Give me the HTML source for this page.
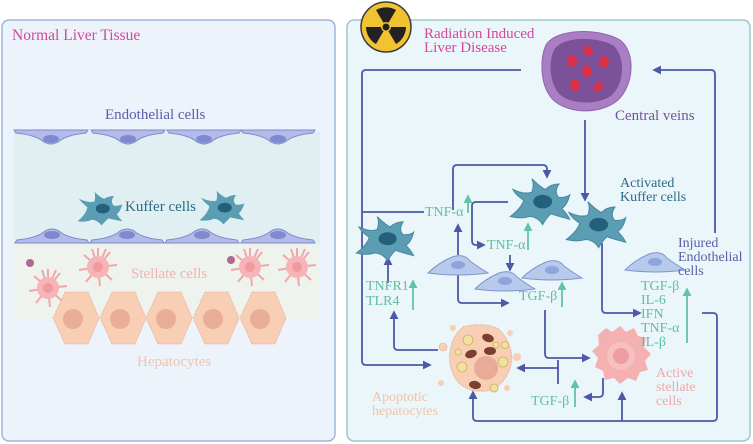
<!DOCTYPE html>
<html><head><meta charset="utf-8"><style>
html,body{margin:0;padding:0;background:#fff;}
svg{display:block;font-family:"Liberation Serif",serif;}
</style></head><body>
<svg width="753" height="444" viewBox="0 0 753 444" xmlns="http://www.w3.org/2000/svg">
<defs>
<marker id="ah" viewBox="0 0 10 10" refX="8" refY="5" markerWidth="5" markerHeight="5" orient="auto"><path d="M0,0 L10,5 L0,10 z" fill="#4d58a6"/></marker>
<marker id="gh" viewBox="0 0 10 10" refX="8" refY="5" markerWidth="5" markerHeight="5" orient="auto"><path d="M0,0 L10,5 L0,10 z" fill="#62c3a6"/></marker>
<g id="endoT"><path d="M0,0 L74,0 L72,3 Q52,5 44,12 Q37,16 30,12 Q22,5 2,3 Z" fill="#b3bce8" stroke="#7f89cf" stroke-width="1"/><ellipse cx="37" cy="9" rx="8" ry="4" fill="#7f89cf"/></g>
<g id="endoB"><path d="M0,0 L74,0 L72,-3 Q52,-5 44,-12 Q37,-16 30,-12 Q22,-5 2,-3 Z" fill="#b3bce8" stroke="#7f89cf" stroke-width="1"/><ellipse cx="37" cy="-8" rx="8" ry="4" fill="#7f89cf"/></g>
<g id="kup"><path d="M-22,10 Q-14,4 -12,-2 Q-18,-6 -20,-10 Q-12,-6 -6,-8 Q-4,-14 -6,-18 Q0,-12 4,-10 Q8,-14 14,-14 Q10,-8 14,-4 Q20,-4 22,-6 Q20,2 16,4 Q20,8 22,12 Q14,10 8,8 Q4,12 2,16 Q-2,10 -8,10 Q-14,12 -22,10 Z" fill="#5b9db3" stroke="#4b8aa0" stroke-width="0.8"/><ellipse cx="2" cy="-1" rx="7" ry="5" fill="#24607a"/></g>
<g id="kupS"><path d="M-16,8 Q-10,3 -9,-2 Q-13,-5 -15,-8 Q-9,-5 -4,-6 Q-3,-10 -4,-13 Q0,-9 3,-8 Q6,-10 10,-10 Q7,-6 10,-3 Q14,-3 16,-4 Q14,2 12,3 Q14,6 16,8 Q10,7 6,6 Q3,9 1,11 Q-2,7 -6,7 Q-10,9 -16,8 Z" fill="#5b9db3"/><ellipse cx="2" cy="-1" rx="5" ry="3.5" fill="#24607a"/></g>
<g id="spin"><path d="M-30,8 Q-20,-2 -6,-8 Q6,-12 12,-4 Q20,2 30,8 Q0,12 -30,8 Z" fill="#b8caec" stroke="#7f93d0" stroke-width="1"/><ellipse cx="0" cy="0" rx="7" ry="4" fill="#8ea4dc"/></g>
<g id="stel"><g stroke="#f4a5a8" stroke-width="2" fill="none"><path d="M0,0 L0,-19 M0,0 L12,-15 M0,0 L19,-2 M0,0 L14,13 M0,0 L2,19 M0,0 L-12,15 M0,0 L-19,3 M0,0 L-14,-12 M0,0 L-6,-18 M0,0 L8,-18"/></g><circle r="11" fill="#f6b4b6"/><circle r="5" fill="#ef9a9e"/></g>
<g id="hep"><path d="M12,0 L35,0 L46,26 L35,52 L12,52 L0,26 Z" fill="#f8cfb4" stroke="#e5ad92" stroke-width="0.8" stroke-dasharray="1.5 1"/><circle cx="20" cy="27" r="10" fill="#e9ae98"/></g>
</defs>

<rect x="2" y="20" width="333" height="421" rx="7" fill="#edf3fb" stroke="#9fb5dd" stroke-width="1.5"/>
<text x="12" y="40" font-size="15.5" fill="#d2489b">Normal Liver Tissue</text>
<rect x="14" y="132" width="306" height="111" fill="#e0f0f2"/>
<rect x="14" y="243" width="306" height="76" fill="#eef3ee"/>
<text x="105" y="119" font-size="15" fill="#5a5ea8">Endothelial cells</text>
<use href="#endoT" x="14" y="130"/><use href="#endoT" x="91" y="130"/><use href="#endoT" x="167" y="130"/><use href="#endoT" x="241" y="130"/>
<use href="#endoB" x="15" y="243"/><use href="#endoB" x="90" y="243"/><use href="#endoB" x="165" y="243"/><use href="#endoB" x="241" y="243"/>
<use href="#kupS" transform="translate(100,210) scale(1.4)"/><use href="#kupS" transform="translate(222,209) scale(1.4)"/>
<text x="125" y="211" font-size="15" fill="#2e6a86">Kuffer cells</text>
<use href="#stel" x="98" y="267"/><use href="#stel" x="48" y="288"/><use href="#stel" x="250" y="267"/><use href="#stel" x="297" y="267"/>
<circle cx="30" cy="263" r="4" fill="#b06a90"/><circle cx="231" cy="260" r="4" fill="#b06a90"/>
<text x="131" y="278" font-size="15" fill="#f3b2b2">Stellate cells</text>
<use href="#hep" x="53" y="292"/><use href="#hep" x="100" y="292"/><use href="#hep" x="146" y="292"/><use href="#hep" x="193" y="292"/><use href="#hep" x="240" y="292"/>
<text x="137" y="366" font-size="15" fill="#f2c3ab">Hepatocytes</text>

<rect x="347" y="20" width="403" height="421" rx="7" fill="#eaf6f9" stroke="#9ec6ce" stroke-width="1.5"/>
<circle cx="386" cy="27" r="25" fill="#f1c232" stroke="#3a3a3a" stroke-width="1.5"/>
<g fill="#222"><path d="M386,27 L376,10 A20,20 0 0 1 396,10 Z"/><path d="M386,27 L406,27 A20,20 0 0 1 396,44 Z"/><path d="M386,27 L376,44 A20,20 0 0 1 366,27 Z"/></g>
<circle cx="386" cy="27" r="5" fill="#f1c232"/><circle cx="386" cy="27" r="3.5" fill="#222"/>
<text x="424" y="38" font-size="15" fill="#d2489b">Radiation Induced</text>
<text x="424" y="52" font-size="15" fill="#d2489b">Liver Disease</text>
<path d="M546,45 C556,28 600,28 620,40 C636,52 634,85 618,100 C600,116 562,114 550,96 C540,82 540,58 546,45 Z" fill="#a97ec2" stroke="#8f64ad"/>
<path d="M554,50 C562,36 598,36 614,46 C626,58 624,84 612,95 C598,106 566,105 557,91 C549,79 549,60 554,50 Z" fill="#7b5199"/>
<g fill="#d9314a"><ellipse cx="572" cy="61" rx="5" ry="6"/><ellipse cx="588" cy="51" rx="4" ry="6" transform="rotate(-40 588 51)"/><ellipse cx="604" cy="62" rx="5" ry="6"/><ellipse cx="587" cy="71" rx="5" ry="6"/><ellipse cx="575" cy="85" rx="5" ry="6"/><ellipse cx="598" cy="87" rx="4" ry="6" transform="rotate(40 598 87)"/></g>
<text x="615" y="120" font-size="15" fill="#7a4f9a">Central veins</text>

<g fill="none" stroke="#4d58a6" stroke-width="1.8">
<path d="M521,70 L366,70 Q362,70 362,74 L362,361 Q362,365 366,365 L430,365" marker-end="url(#ah)"/>
<path d="M715,233 L715,74 Q715,70 711,70 L654,70" marker-end="url(#ah)"/>
<path d="M585,120 L585,200" marker-end="url(#ah)"/>
<path d="M362,212 L424,212"/>
<path d="M453,210 L453,169 Q453,165 457,165 L543,165 Q547,165 547,169 L547,177" marker-end="url(#ah)"/>
<path d="M508,202 L476,202 Q472,202 472,206 L472,241 Q472,245 476,245 L484,245" marker-end="url(#ah)"/>
<path d="M458,255 L458,225" marker-end="url(#ah)"/>
<path d="M510,255 L510,270" marker-end="url(#ah)"/>
<path d="M458,272 L458,299 Q458,303 462,303 L508,303" marker-end="url(#ah)"/>
<path d="M545,310 L545,354 Q545,358 549,358 L589,358" marker-end="url(#ah)"/>
<path d="M558,384 L558,368 L518,368" marker-end="url(#ah)"/>
<path d="M558,360 L558,370"/>
<path d="M603,378 L603,393 Q603,397 599,397 L585,397" marker-end="url(#ah)"/>
<path d="M602,243 L602,309 Q602,313 606,313 L640,313" marker-end="url(#ah)"/>
<path d="M702,313 L713,313 Q717,313 717,317 L717,417 Q717,421 713,421 L477,421 Q473,421 473,417 L473,392" marker-end="url(#ah)"/>
<path d="M622,421 L622,393" marker-end="url(#ah)"/>
<path d="M438,350 L398,350 Q394,350 394,346 L394,312" marker-end="url(#ah)"/>
<path d="M388,283 L388,258" marker-end="url(#ah)"/>
</g>
<g stroke="#62c3a6" stroke-width="1.8">
<path d="M468,213 L468,196" marker-end="url(#gh)"/>
<path d="M528,250 L528,224" marker-end="url(#gh)"/>
<path d="M562,307 L562,283" marker-end="url(#gh)"/>
<path d="M413,310 L413,281" marker-end="url(#gh)"/>
<path d="M575,407 L575,381" marker-end="url(#gh)"/>
<path d="M687,343 L687,289" marker-end="url(#gh)"/>
</g>

<use href="#kup" transform="translate(385,240) scale(1.3)"/>
<use href="#kup" transform="translate(540,203) scale(1.35)"/>
<use href="#kup" transform="translate(596,226) scale(1.35)"/>
<use href="#spin" x="458" y="265"/>
<use href="#spin" x="505" y="281"/>
<use href="#spin" x="552" y="270"/>
<use href="#spin" x="655" y="262"/>

<g>
<circle cx="443" cy="347" r="4" fill="#f8cfb4" stroke="#e5ad92" stroke-width="0.6"/>
<circle cx="453" cy="328" r="3" fill="#f8cfb4"/><circle cx="517" cy="357" r="4" fill="#f8cfb4"/><circle cx="510" cy="333" r="3" fill="#f8cfb4"/>
<circle cx="441" cy="383" r="3" fill="#f8cfb4"/><circle cx="507" cy="388" r="3" fill="#f8cfb4"/>
<path d="M463,327 Q480,322 497,328 Q510,338 512,358 Q510,380 492,390 Q472,394 460,384 Q448,372 450,352 Q452,336 463,327 Z" fill="#f8cfb4" stroke="#e5ad92" stroke-dasharray="1.5 1"/>
<circle cx="486" cy="368" r="12" fill="#e8ab98"/>
<g fill="#f3e0a0" stroke="#c9b25a" stroke-width="0.8"><circle cx="468" cy="340" r="5"/><circle cx="462" cy="367" r="5"/><circle cx="503" cy="362" r="5"/><circle cx="505" cy="345" r="3.5"/><circle cx="496" cy="345" r="3"/><circle cx="494" cy="388" r="4"/><circle cx="458" cy="352" r="3"/></g>
<g fill="#7a3f30"><ellipse cx="488" cy="338" rx="6" ry="4" transform="rotate(20 488 338)"/><ellipse cx="471" cy="354" rx="6" ry="4" transform="rotate(-20 471 354)"/><ellipse cx="490" cy="351" rx="6" ry="4"/><ellipse cx="475" cy="385" rx="6" ry="4" transform="rotate(10 475 385)"/></g>
</g>
<path d="M598,335 L606,328 L612,332 L620,326 L626,332 L634,328 L638,336 L646,338 L644,347 L651,354 L645,361 L648,370 L640,372 L636,381 L628,378 L620,384 L614,378 L605,380 L603,371 L595,367 L598,358 L592,351 L599,345 Z" fill="#f5b0b2"/>
<circle cx="621" cy="356" r="14" fill="#f7bfc0"/>
<circle cx="621" cy="356" r="8" fill="#ee9da1"/>

<g font-size="14" fill="#5fbf9f">
<text x="425" y="216">TNF-α</text>
<text x="487" y="249">TNF-α</text>
<text x="519" y="300">TGF-β</text>
<text x="366" y="290">TNFR1</text>
<text x="366" y="305">TLR4</text>
<text x="641" y="290">TGF-β</text>
<text x="641" y="304">IL-6</text>
<text x="641" y="318">IFN</text>
<text x="641" y="332">TNF-α</text>
<text x="641" y="346">IL-β</text>
<text x="531" y="405">TGF-β</text>
</g>
<g font-size="14" fill="#2e6a86"><text x="620" y="187">Activated</text><text x="620" y="201">Kuffer cells</text></g>
<g font-size="14" fill="#5a5ea8"><text x="678" y="247">Injured</text><text x="678" y="261">Endothelial</text><text x="678" y="275">cells</text></g>
<g font-size="14" fill="#f3a7ab"><text x="656" y="377">Active</text><text x="656" y="391">stellate</text><text x="656" y="405">cells</text></g>
<g font-size="14" fill="#f2c3ab"><text x="372" y="401">Apoptotic</text><text x="372" y="415">hepatocytes</text></g>
</svg>
</body></html>
